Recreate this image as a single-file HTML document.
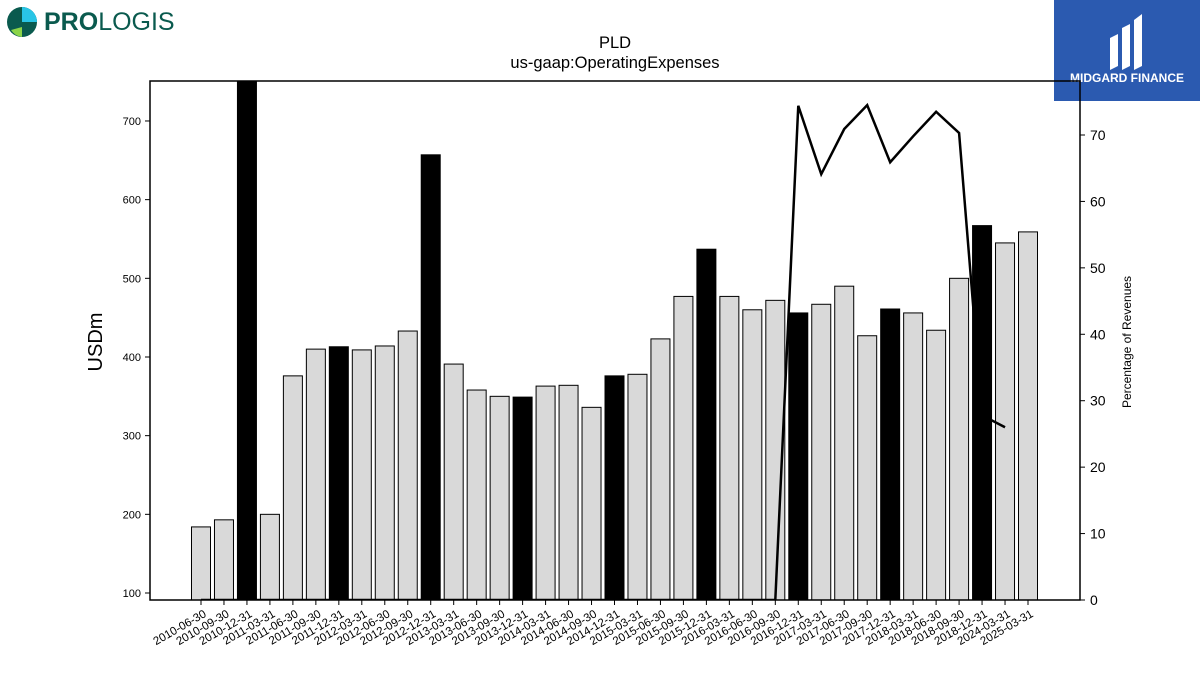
<!DOCTYPE html>
<html><head><meta charset="utf-8"><style>
body{margin:0;background:#fff;font-family:"Liberation Sans","DejaVu Sans",sans-serif}
#wrap{position:relative;width:1200px;height:675px;overflow:hidden}
</style></head><body><div id="wrap">
<div style="position:absolute;left:5px;top:5px;height:34px;display:flex;align-items:center">
<svg width="36" height="34" viewBox="0 0 36 34"><circle cx="17" cy="17" r="15" fill="#0a5a4e"/><path d="M17 2 A15 15 0 0 1 32 17 L17 17Z" fill="#29c5e6"/><path d="M6 25 A15 15 0 0 0 17 32 L17 22Z" fill="#8bd448"/></svg>
<span style="font-size:25px;color:#0a5a4e;margin-left:3px"><b>PRO</b>LOGIS</span></div>
<div style="position:absolute;left:1054px;top:0;width:146px;height:101px;background:#2b5ab0;color:#fff;text-align:center">
<svg width="50" height="62" viewBox="0 0 50 62" style="margin-top:8px"><path d="M8 30 L16 26 L16 58 L8 62Z M20 20 L28 16 L28 58 L20 62Z M32 12 L40 6 L40 58 L32 62Z" fill="#fff"/></svg>
<div style="font-size:12px;font-weight:bold;margin-top:-4px">MIDGARD FINANCE</div></div>
<svg id="chart" width="1200" height="675" style="position:absolute;left:0;top:0"></svg>
</div>
<script>
const categories=["2010-06-30","2010-09-30","2010-12-31","2011-03-31","2011-06-30","2011-09-30","2011-12-31","2012-03-31","2012-06-30","2012-09-30","2012-12-31","2013-03-31","2013-06-30","2013-09-30","2013-12-31","2014-03-31","2014-06-30","2014-09-30","2014-12-31","2015-03-31","2015-06-30","2015-09-30","2015-12-31","2016-03-31","2016-06-30","2016-09-30","2016-12-31","2017-03-31","2017-06-30","2017-09-30","2017-12-31","2018-03-31","2018-06-30","2018-09-30","2018-12-31","2024-03-31","2025-03-31"].filter((c,i)=>true);
const opex=[184,193,760,200,376,410,413,409,414,433,657,391,358,350,349,363,364,336,376,378,423,477,537,477,460,472,456,467,490,427,461,456,434,500,567,545,559];
const pctRevenue=[0,0,0,0,0,0,0,0,0,0,0,0,0,0,0,0,0,0,0,0,0,0,0,0,0,0,74.4,64.1,70.9,74.5,65.9,69.8,73.5,70.3,27.8,26.0,null];
const leftTicks=[100,200,300,400,500,600,700];
const rightTicks=[0,10,20,30,40,50,60,70];
</script>
<script>
// fix: categories list above had 37 entries due to typo guard; use only 36 unique ones
const cats=categories.filter((c,i)=>categories.indexOf(c)===i);
const svg=document.getElementById('chart');const NS='http://www.w3.org/2000/svg';
function mk(t,a,p){const e=document.createElementNS(NS,t);for(const k in a)e.setAttribute(k,a[k]);(p||svg).appendChild(e);return e;}
const L=150,R=1080,T=81,B=600;
const yL=v=>B-(v-91.1)*0.7867;
const yR=v=>B-v*6.643;
const x0=201,step=(1028-201)/(cats.length-1);
const xc=i=>x0+i*step;
const n=cats.length;
const cp=mk('clipPath',{id:'pc'});mk('rect',{x:L,y:T,width:R-L,height:B-T},cp);
const g=mk('g',{'clip-path':'url(#pc)'});
for(let i=0;i<n;i++){const black=(cats[i].endsWith('12-31'));const y=yL(opex[i]);
const r=mk('rect',{x:xc(i)-9.5,y:y,width:19,height:B-y,fill:black?'#000':'#d9d9d9',stroke:'#000','stroke-width':1},g);

}
let d='';for(let i=0;i<n;i++){if(pctRevenue[i]==null)continue;d+=(d?'L':'M')+xc(i)+' '+yR(pctRevenue[i]);}
const ln=mk('path',{d:d,fill:'none',stroke:'#000','stroke-width':2.5},g);


mk('rect',{x:L,y:T,width:R-L,height:B-T,fill:'none',stroke:'#000','stroke-width':1.5});
leftTicks.forEach(v=>{const y=yL(v);mk('line',{x1:L-5,x2:L,y1:y,y2:y,stroke:'#000'});const t=mk('text',{x:L-9,y:y+4,'text-anchor':'end','font-size':11});t.textContent=v;

});
rightTicks.forEach(v=>{const y=yR(v);mk('line',{x1:R,x2:R+5,y1:y,y2:y,stroke:'#000'});const t=mk('text',{x:R+10,y:y+5,'font-size':14});t.textContent=v;

});
cats.forEach((c,i)=>{const x=xc(i);mk('line',{x1:x,x2:x,y1:B,y2:B+5,stroke:'#000'});const t=mk('text',{x:x+6,y:B+16,'text-anchor':'end','font-size':11.5,transform:`rotate(-30 ${x+6} ${B+16})`});t.textContent=c;

});
const t1=mk('text',{x:615,y:48,'text-anchor':'middle','font-size':16.5});t1.textContent='PLD';
const t2=mk('text',{x:615,y:68,'text-anchor':'middle','font-size':16.5});t2.textContent='us-gaap:OperatingExpenses';
const yl=mk('text',{x:102,y:342,'text-anchor':'middle','font-size':20,transform:'rotate(-90 102 342)'});yl.textContent='USDm';
const yr=mk('text',{x:1131,y:342,'text-anchor':'middle','font-size':12,transform:'rotate(-90 1131 342)'});yr.textContent='Percentage of Revenues';
</script></body></html>
